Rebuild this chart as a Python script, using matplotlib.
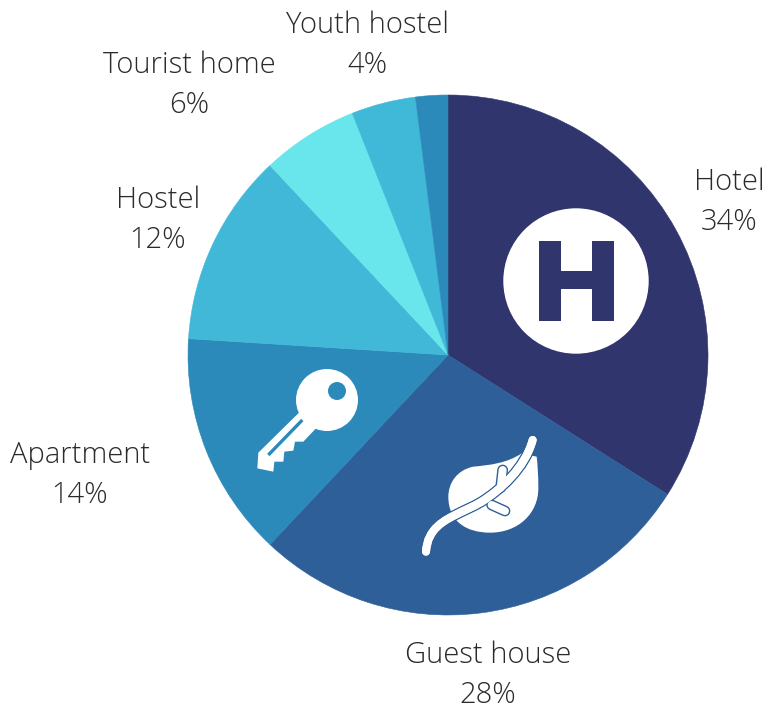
import matplotlib
matplotlib.use("Agg")
import matplotlib.pyplot as plt
from matplotlib.patches import Circle, Polygon, PathPatch
from matplotlib.path import Path

W, H = 764, 706

categories = ["Hotel", "Guest house", "Apartment", "Hostel", "Tourist home", "Youth hostel", "Other"]
shares = [34, 28, 14, 12, 6, 4, 2]
colors = ["#31356E", "#2E5F99", "#2C8ABA", "#42B8D8", "#69E6EB", "#40B8D8", "#2C8ABA"]

# label centres, in pixels from top left (no label for the last slice)
label_pos = [(729, 202), (488, 675), (80, 475), (158, 220), (189, 85), (368, 45)]


def py(y):
    return H - y


def pts(xy, x0=0, y0=0, scale=1.0):
    return [(x0 + x * scale, py(y0 + y * scale)) for x, y in xy]


def stroke(ax, verts, codes, color, width, z):
    ax.add_patch(PathPatch(Path(verts, codes), fill=False, edgecolor=color, lw=width * 0.72,
                           capstyle="round", joinstyle="round", zorder=z))


def draw_hotel_icon(ax):
    ax.add_patch(Circle((576, py(281)), 72.7, color="white", lw=0, zorder=5))
    h = [(539, 241), (561, 241), (561, 271), (592, 271), (592, 241), (614, 241), (614, 321),
         (592, 321), (592, 289), (561, 289), (561, 321), (539, 321)]
    ax.add_patch(Polygon(pts(h), closed=True, color=colors[0], lw=0, zorder=6))


def draw_key_icon(ax):
    kw = dict(x0=240, y0=360, scale=1 / 3)
    blade = [(180, 155), (55, 278), (52, 325), (100, 335), (103, 305), (130, 305), (133, 275),
             (160, 272), (165, 245), (190, 245), (228, 205)]
    ax.add_patch(Polygon(pts(blade, **kw), closed=True, color="white", lw=0, zorder=5))
    ax.add_patch(Circle((327, py(400)), 31, color="white", lw=0, zorder=5))
    ax.add_patch(Circle((337, py(391)), 9, color=colors[2], lw=0, zorder=6))
    slot = pts([(187, 180), (85, 285)], **kw)
    ax.plot(*zip(*slot), color=colors[2], lw=2.4, solid_capstyle="butt", zorder=6)


def draw_leaf_icon(ax):
    kw = dict(x0=410, y0=425, scale=1 / 3)
    C = Path.CURVE4
    leaf = [(335, 85), (290, 115), (240, 120), (190, 125), (140, 135), (115, 175), (115, 215),
            (115, 290), (170, 323), (240, 323), (325, 323), (385, 265), (385, 190),
            (385, 150), (383, 120), (380, 95), (335, 85)]
    leaf_codes = [Path.MOVETO] + [C] * 15 + [Path.CLOSEPOLY]
    ax.add_patch(PathPatch(Path(pts(leaf, **kw), leaf_codes), facecolor="white", lw=0, zorder=5))

    stem = pts([(368, 45), (345, 130), (270, 195), (215, 230), (160, 262), (100, 278), (70, 318),
                (50, 345), (50, 365), (48, 380)], **kw)
    stem_codes = [Path.MOVETO] + [C] * 9
    branch1 = pts([(278, 135), (272, 188)], **kw)
    branch2 = pts([(245, 240), (285, 258)], **kw)
    line = [Path.MOVETO, Path.LINETO]
    for color, extra, z in [(colors[1], 2.8, 6), ("white", 0, 7)]:
        stroke(ax, branch1, line, color, 8 + extra, z)
        stroke(ax, branch2, line, color, 8 + extra, z)
        stroke(ax, stem, stem_codes, color, 8 + extra, z)
    # the lower end of the stem runs out of the leaf with no blue edge needed on the background
    stroke(ax, stem, stem_codes, "white", 8, 8)


fig = plt.figure(figsize=(W / 100, H / 100), dpi=100)
ax = fig.add_axes([0, 0, 1, 1])

wedges, _ = ax.pie(shares, colors=colors, startangle=90, counterclock=False, center=(448, py(355)),
                   radius=260, frame=True)
# same colour edge, otherwise a thin white seam shows between slices
for w, c in zip(wedges, colors):
    w.set_edgecolor(c)
    w.set_linewidth(0.4)
ax.set_xlim(0, W)
ax.set_ylim(0, H)
ax.set_aspect("equal")
ax.axis("off")

draw_hotel_icon(ax)
draw_key_icon(ax)
draw_leaf_icon(ax)

for cat, share, (x, y) in zip(categories, shares, label_pos):
    ax.text(x, py(y), "%s\n%d%%" % (cat, share), ha="center", va="center", fontsize=21,
            family="Open Sans", weight="light", color="#2b2b2b", linespacing=1.47, zorder=10)

fig.savefig("out.png", dpi=100)
